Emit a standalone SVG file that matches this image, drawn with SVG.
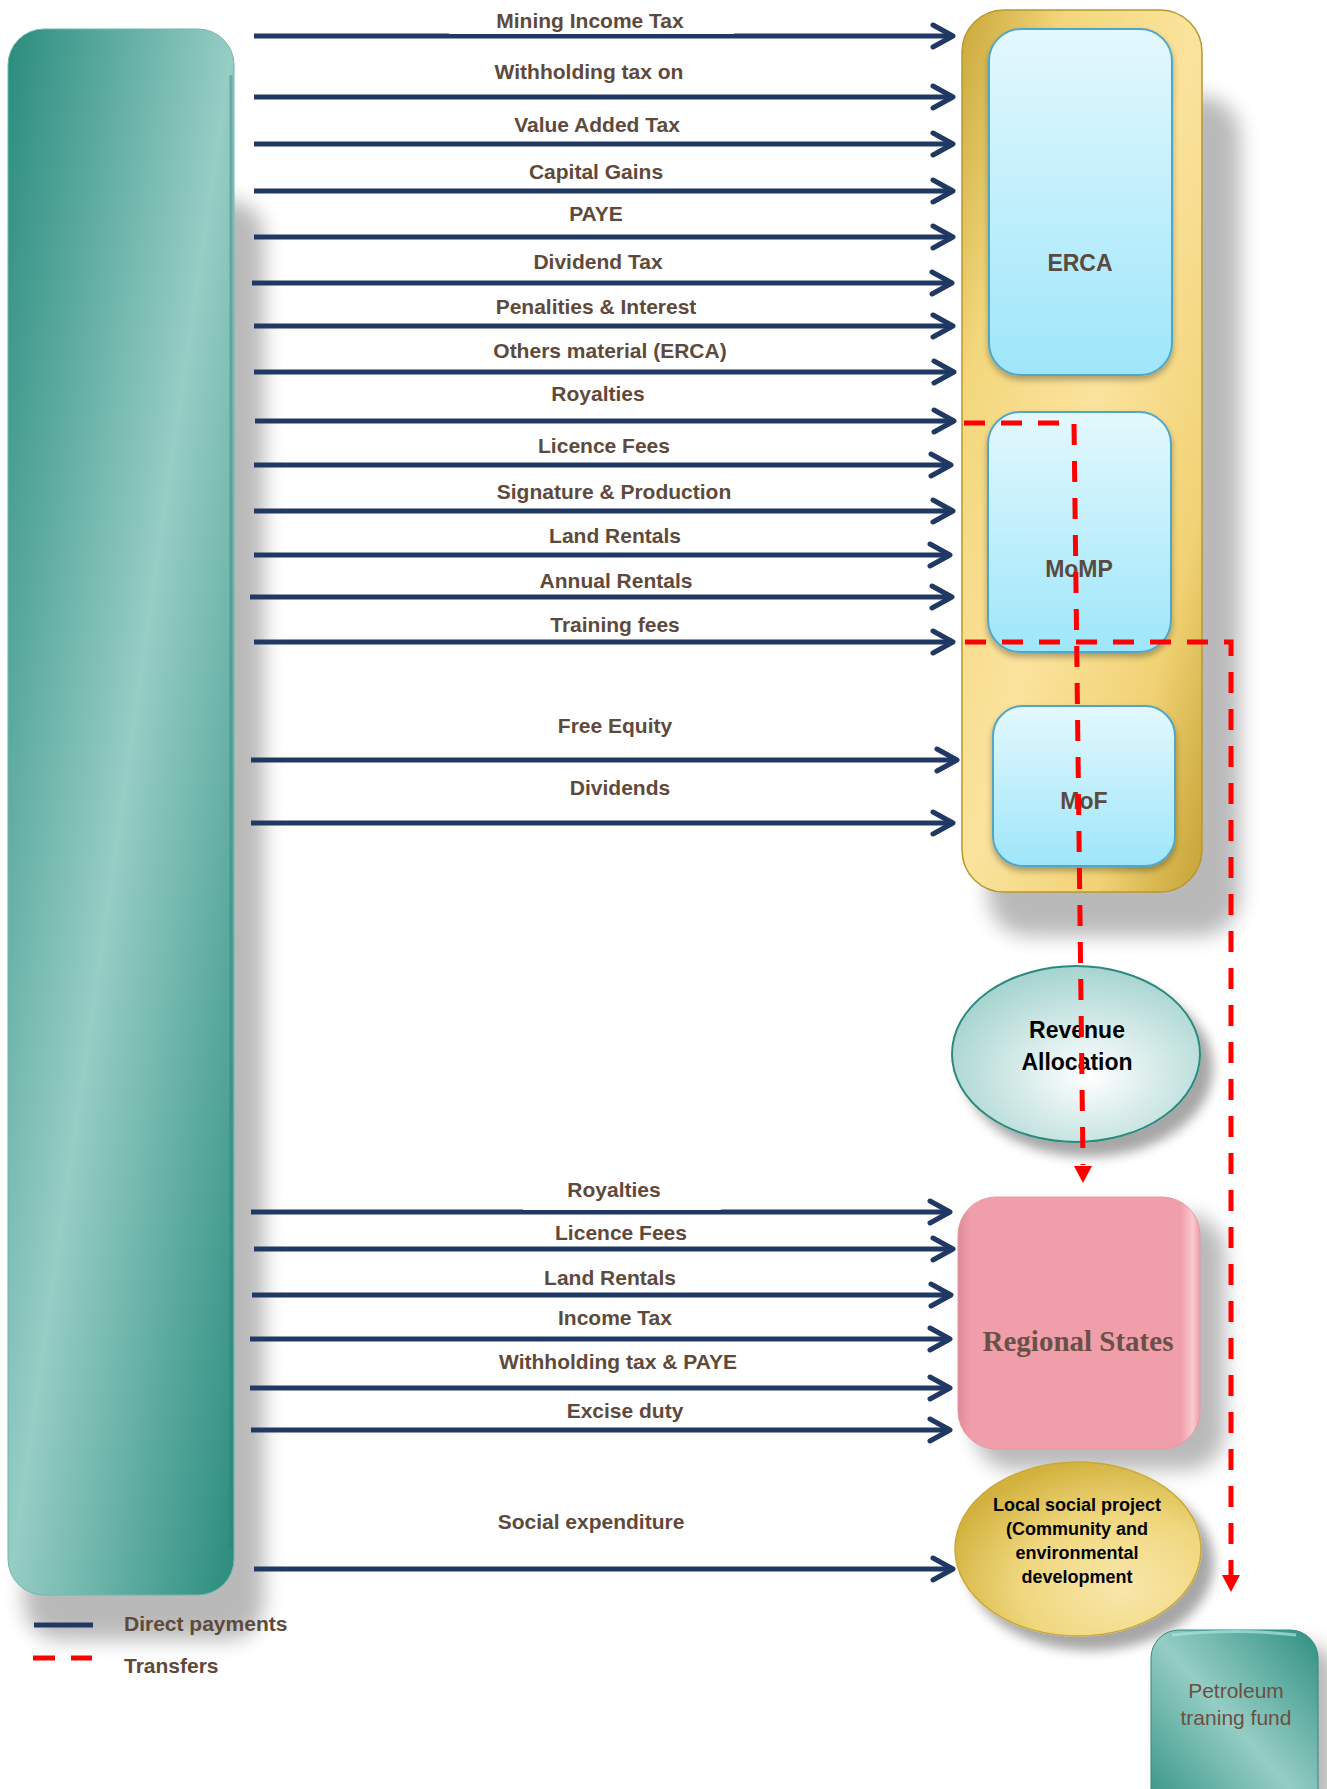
<svg xmlns="http://www.w3.org/2000/svg" width="1327" height="1789" viewBox="0 0 1327 1789">
<style>
.lbl{font-family:"Liberation Sans",Arial,sans-serif;font-weight:bold;font-size:21px;fill:#5e4a3c;text-anchor:middle}
.box{font-family:"Liberation Sans",Arial,sans-serif;font-weight:bold;font-size:23px;fill:#5a4a40;text-anchor:middle}
.blk{font-family:"Liberation Sans",Arial,sans-serif;font-weight:bold;fill:#000;text-anchor:middle}
.arr{stroke:#1f3864;stroke-width:5;fill:none;marker-end:url(#ah)}
.tr{stroke:#ff0000;stroke-width:5;fill:none;stroke-dasharray:21 16}
.ah{fill:#ff0000}
.blue{fill:url(#gBlue);stroke:#4fa6c6;stroke-width:2}
.shd{fill:#000;opacity:0.27;filter:url(#blur)}
</style>
<defs>
<marker id="ah" markerUnits="userSpaceOnUse" markerWidth="32" markerHeight="32" refX="24" refY="16" orient="auto">
<path d="M4,5 L24,16 L4,27" fill="none" stroke="#1f3864" stroke-width="5" stroke-linecap="round" stroke-linejoin="round"/>
</marker>
<linearGradient id="gTeal" x1="0" y1="0" x2="1" y2="1">
<stop offset="0" stop-color="#2a8c7e"/><stop offset="0.5" stop-color="#96cdc5"/><stop offset="1" stop-color="#2a8c7e"/>
</linearGradient>
<linearGradient id="gGold" x1="0" y1="0" x2="1" y2="1">
<stop offset="0" stop-color="#c9a83a"/><stop offset="0.22" stop-color="#f3d77c"/><stop offset="0.5" stop-color="#fbe39e"/><stop offset="0.78" stop-color="#f1d274"/><stop offset="1" stop-color="#c4a234"/>
</linearGradient>
<linearGradient id="gBlue" x1="0" y1="0" x2="0" y2="1">
<stop offset="0" stop-color="#e3f8fd"/><stop offset="1" stop-color="#9ee6fa"/>
</linearGradient>
<radialGradient id="gRev" cx="0.55" cy="0.62" r="0.6">
<stop offset="0" stop-color="#ffffff"/><stop offset="1" stop-color="#a8d5d1"/>
</radialGradient>
<linearGradient id="gPink" x1="0" y1="0" x2="1" y2="0">
<stop offset="0" stop-color="#dc8a95"/><stop offset="0.05" stop-color="#f09ea9"/><stop offset="0.92" stop-color="#f09ea9"/><stop offset="0.97" stop-color="#fbc9d0"/><stop offset="1" stop-color="#ee9ea8"/>
</linearGradient>
<radialGradient id="gLocal" cx="0.68" cy="0.72" r="0.75">
<stop offset="0" stop-color="#f9e7ab"/><stop offset="0.55" stop-color="#f0d77e"/><stop offset="1" stop-color="#d2b23e"/>
</radialGradient>
<linearGradient id="gPet" x1="0" y1="1" x2="1" y2="0">
<stop offset="0" stop-color="#2f9080"/><stop offset="0.5" stop-color="#95cdc5"/><stop offset="1" stop-color="#2f9080"/>
</linearGradient>
<filter id="blur" x="-20%" y="-20%" width="140%" height="140%">
<feGaussianBlur stdDeviation="10"/>
</filter>
<filter id="shSm" x="-30%" y="-30%" width="160%" height="170%">
<feGaussianBlur in="SourceAlpha" stdDeviation="6"/><feOffset dx="12" dy="14"/>
<feComponentTransfer><feFuncA type="linear" slope="0.35"/></feComponentTransfer>
<feMerge><feMergeNode/><feMergeNode in="SourceGraphic"/></feMerge>
</filter>
<filter id="shIn" x="-20%" y="-20%" width="140%" height="140%">
<feGaussianBlur in="SourceAlpha" stdDeviation="3"/><feOffset dx="0" dy="4"/>
<feComponentTransfer><feFuncA type="linear" slope="0.3"/></feComponentTransfer>
<feMerge><feMergeNode/><feMergeNode in="SourceGraphic"/></feMerge>
</filter>
</defs>
<rect width="1327" height="1789" fill="#ffffff"/>

<g id="source">
<rect class="shd" x="24" y="200" width="240" height="1440" rx="36"/>
<rect x="8" y="29" width="226" height="1566" rx="36" fill="url(#gTeal)" stroke="#6fb8ad" stroke-width="1"/>
<path d="M231,75 V1550" stroke="#2c7a6e" stroke-width="3" opacity="0.4" fill="none"/>
</g>

<g id="collectors">
<rect class="shd" x="988" y="96" width="252" height="840" rx="40"/>
<rect x="962" y="10" width="240" height="882" rx="42" fill="url(#gGold)" stroke="#b8982e" stroke-width="1.5"/>
</g>
<g id="erca">
<rect class="blue" x="989" y="29" width="183" height="346" rx="32" filter="url(#shIn)"/>
<text class="box" x="1080" y="271">ERCA</text>
</g>
<g id="momp">
<rect class="blue" x="988" y="412" width="183" height="240" rx="32" filter="url(#shIn)"/>
<text class="box" x="1079" y="577">MoMP</text>
</g>
<g id="mof">
<rect class="blue" x="993" y="706" width="182" height="160" rx="30" filter="url(#shIn)"/>
<text class="box" x="1084" y="809">MoF</text>
</g>

<g id="revenue-allocation">
<ellipse cx="1076" cy="1054" rx="124" ry="88" fill="url(#gRev)" stroke="#2a8a7e" stroke-width="2" filter="url(#shSm)"/>
<text class="blk" x="1077" y="1038" font-size="23">Revenue</text>
<text class="blk" x="1077" y="1070" font-size="23">Allocation</text>
</g>

<g id="regional-states">
<rect class="shd" x="975" y="1215" width="250" height="255" rx="38"/>
<rect x="958" y="1197" width="242" height="252" rx="38" fill="url(#gPink)" stroke="#e79aa4" stroke-width="1"/>
<text x="1078" y="1351" font-family="'Liberation Serif','Times New Roman',serif" font-weight="bold" font-size="29" fill="#6b5048" text-anchor="middle">Regional States</text>
</g>

<g id="local-social-project">
<ellipse cx="1078" cy="1549" rx="123" ry="87" fill="url(#gLocal)" stroke="#c9a838" stroke-width="1.5" filter="url(#shSm)"/>
<text class="blk" font-size="18" x="1077" y="1511">Local social project</text>
<text class="blk" font-size="18" x="1077" y="1535">(Community and</text>
<text class="blk" font-size="18" x="1077" y="1559">environmental</text>
<text class="blk" font-size="18" x="1077" y="1583">development</text>
</g>

<g id="petroleum-fund">
<rect class="shd" x="1165" y="1645" width="170" height="180" rx="26"/>
<rect x="1151" y="1630" width="167" height="190" rx="28" fill="url(#gPet)" stroke="#2d8a7c" stroke-width="1"/>
<path d="M1172,1635 Q1235,1628 1296,1635" stroke="#a8e6de" stroke-width="3" fill="none" opacity="0.7"/>
<text x="1236" y="1698" font-family="'Liberation Sans',Arial,sans-serif" font-size="21" fill="#6b5042" text-anchor="middle">Petroleum</text>
<text x="1236" y="1725" font-family="'Liberation Sans',Arial,sans-serif" font-size="21" fill="#6b5042" text-anchor="middle">traning fund</text>
</g>

<g id="connectors">
<line class="arr" x1="254" y1="36" x2="953" y2="36"/>
<rect x="449" y="22" width="285" height="12" fill="#ffffff"/>
<line class="arr" x1="254" y1="97" x2="953" y2="97"/>
<line class="arr" x1="254" y1="144" x2="953" y2="144"/>
<line class="arr" x1="254" y1="191" x2="953" y2="191"/>
<line class="arr" x1="254" y1="237" x2="953" y2="237"/>
<line class="arr" x1="252" y1="283" x2="952" y2="283"/>
<line class="arr" x1="254" y1="326" x2="953" y2="326"/>
<line class="arr" x1="254" y1="372" x2="954" y2="372"/>
<line class="arr" x1="255" y1="421" x2="954" y2="421"/>
<line class="arr" x1="254" y1="465" x2="951" y2="465"/>
<line class="arr" x1="254" y1="511" x2="953" y2="511"/>
<line class="arr" x1="254" y1="555" x2="950" y2="555"/>
<line class="arr" x1="250" y1="597" x2="952" y2="597"/>
<line class="arr" x1="254" y1="642" x2="953" y2="642"/>
<line class="arr" x1="251" y1="760" x2="957" y2="760"/>
<line class="arr" x1="251" y1="823" x2="953" y2="823"/>
<line class="arr" x1="251" y1="1212" x2="950" y2="1212"/>
<rect x="523" y="1200" width="198" height="10" fill="#ffffff"/>
<line class="arr" x1="254" y1="1249" x2="953" y2="1249"/>
<line class="arr" x1="252" y1="1295" x2="951" y2="1295"/>
<line class="arr" x1="250" y1="1339" x2="950" y2="1339"/>
<line class="arr" x1="250" y1="1388" x2="950" y2="1388"/>
<line class="arr" x1="251" y1="1430" x2="950" y2="1430"/>
<line class="arr" x1="254" y1="1569" x2="953" y2="1569"/>

<text class="lbl" x="590" y="28">Mining Income Tax</text>
<text class="lbl" x="589" y="79">Withholding tax on</text>
<text class="lbl" x="597" y="132">Value Added Tax</text>
<text class="lbl" x="596" y="179">Capital Gains</text>
<text class="lbl" x="596" y="221">PAYE</text>
<text class="lbl" x="598" y="269">Dividend Tax</text>
<text class="lbl" x="596" y="314">Penalities &amp; Interest</text>
<text class="lbl" x="610" y="358">Others material (ERCA)</text>
<text class="lbl" x="598" y="401">Royalties</text>
<text class="lbl" x="604" y="453">Licence Fees</text>
<text class="lbl" x="614" y="499">Signature &amp; Production</text>
<text class="lbl" x="615" y="543">Land Rentals</text>
<text class="lbl" x="616" y="588">Annual Rentals</text>
<text class="lbl" x="615" y="632">Training fees</text>
<text class="lbl" x="615" y="733">Free Equity</text>
<text class="lbl" x="620" y="795">Dividends</text>
<text class="lbl" x="614" y="1197">Royalties</text>
<text class="lbl" x="621" y="1240">Licence Fees</text>
<text class="lbl" x="610" y="1285">Land Rentals</text>
<text class="lbl" x="615" y="1325">Income Tax</text>
<text class="lbl" x="618" y="1369">Withholding tax &amp; PAYE</text>
<text class="lbl" x="625" y="1418">Excise duty</text>
<text class="lbl" x="591" y="1529">Social expenditure</text>

<path class="tr" d="M964,423 L1074,423 L1083,1165"/>
<polygon class="ah" points="1074,1166 1092,1166 1083,1183"/>
<path class="tr" d="M965,642 L1231,642 L1231,1575"/>
<polygon class="ah" points="1222,1575 1240,1575 1231,1592"/>
</g>

<g id="legend">
<line x1="34" y1="1625" x2="93" y2="1625" stroke="#1f3864" stroke-width="5"/>
<text class="lbl" x="124" y="1631" style="text-anchor:start">Direct payments</text>
<line x1="33" y1="1658" x2="92" y2="1658" stroke="#ff0000" stroke-width="5" stroke-dasharray="22 16"/>
<text class="lbl" x="124" y="1673" style="text-anchor:start">Transfers</text>
</g>
</svg>
